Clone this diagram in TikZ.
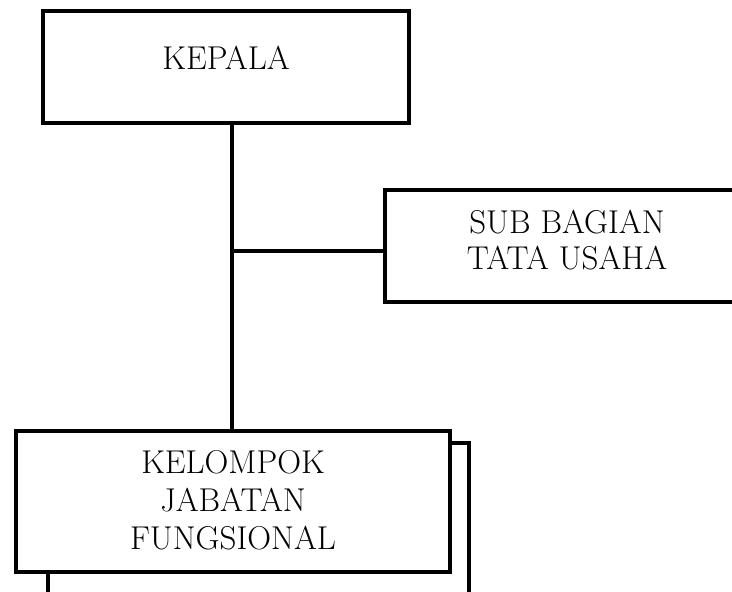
\documentclass[tikz,border=0pt]{standalone}
\usepackage{fontspec}
\begin{document}
\begin{tikzpicture}[x=1pt,y=-1pt,
  box/.style={draw=black,line width=3.3pt,fill=white,rectangle,inner sep=0pt},
  lbl/.style={align=center,font=\fontsize{33}{37}\selectfont,inner sep=0pt},
  conn/.style={draw=black,line width=3.3pt}]
\useasboundingbox (0,0) rectangle (732,592);
\clip (0,0) rectangle (732,592);
\fill[white] (0,0) rectangle (732,592);
% shadow box behind KELOMPOK
\node[box,minimum width=421pt,minimum height=180pt] (shadow) at (258.5,533) {};
% KELOMPOK box
\node[box,minimum width=434pt,minimum height=141pt] (kelompok) at (233,501.5) {};
\node[lbl,font=\fontsize{33}{38}\selectfont] (kelompoktxt) at (233,500) {KELOMPOK\\JABATAN\\FUNGSIONAL};
% KEPALA box
\node[box,minimum width=366pt,minimum height=112pt] (kepala) at (226,67) {};
\node[lbl] (kepalatxt) at (226,58) {KEPALA};
% SUB BAGIAN box
\node[box,minimum width=370pt,minimum height=112pt] (sub) at (570,246) {};
\node[lbl,font=\fontsize{33}{36}\selectfont] (subtxt) at (567,240) {SUB BAGIAN\\TATA USAHA};
% connectors
\coordinate (j) at (232,251);
\draw[conn] (kepala.south -| j) -- (kelompok.north -| j);
\draw[conn] (j) -- (sub.west |- j);
\end{tikzpicture}
\end{document}
